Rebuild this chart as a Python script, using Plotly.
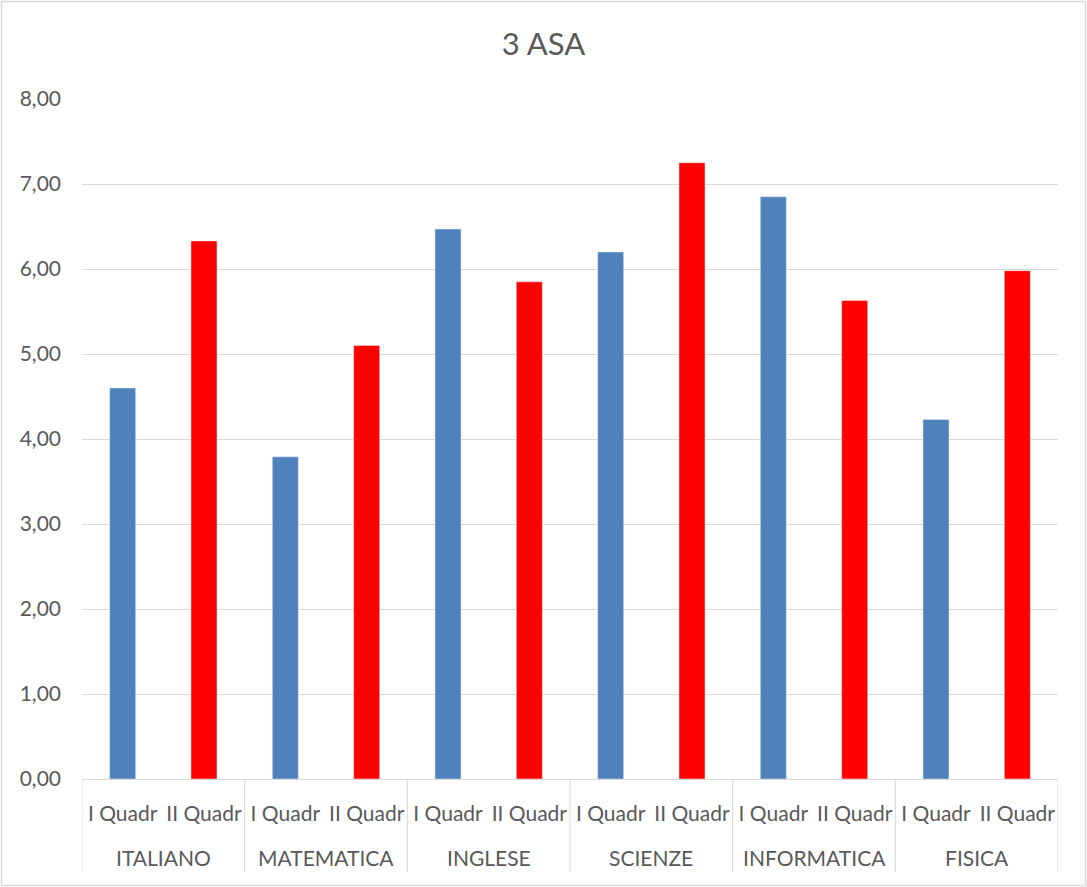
import plotly.graph_objects as go

subjects = ["ITALIANO", "MATEMATICA", "INGLESE", "SCIENZE", "INFORMATICA", "FISICA"]
periods = ["I Quadr", "II Quadr"]
i_quadr = [4.60, 3.79, 6.47, 6.20, 6.85, 4.23]
ii_quadr = [6.33, 5.10, 5.85, 7.25, 5.63, 5.98]
y_ticks = [0, 1, 2, 3, 4, 5, 6, 7, 8]

W, H = 1087, 887
ml, mr, mt, mb = 82, 29, 99, 108
pw = W - ml - mr
ph = H - mt - mb

GREY = "#d9d9d9"
TXT = "#595959"
FONT = "Lato, Open Sans, sans-serif"

categories = [f"{s}|{p}" for s in subjects for p in periods]
tick_text = [p for s in subjects for p in periods]

fig = go.Figure()
fig.add_trace(go.Bar(
    x=[f"{s}|{periods[0]}" for s in subjects],
    y=i_quadr, name=periods[0], marker_color="#4f81bd", width=0.32,
))
fig.add_trace(go.Bar(
    x=[f"{s}|{periods[1]}" for s in subjects],
    y=ii_quadr, name=periods[1], marker_color="#ff0000", width=0.32,
))

fig.update_layout(
    width=W, height=H,
    margin=dict(l=ml, r=mr, t=mt, b=mb, autoexpand=False),
    paper_bgcolor="white", plot_bgcolor="white",
    barmode="overlay",
    showlegend=False,
    separators=",.",
    font=dict(family=FONT, color=TXT, size=21),
    title=dict(text="3 ASA", x=0.5, xanchor="center", y=1 - 44 / H, yanchor="middle",
               font=dict(size=31, color=TXT, family=FONT)),
    xaxis=dict(
        type="category",
        categoryorder="array", categoryarray=categories,
        tickvals=categories, ticktext=tick_text,
        range=[-0.5, len(categories) - 0.5],
        showline=True, linecolor=GREY, linewidth=1,
        showgrid=False, ticks="",
        ticklabelstandoff=16,
        tickfont=dict(size=21, color=TXT, family=FONT),
        automargin=False,
    ),
    yaxis=dict(
        range=[0, 8], tickvals=y_ticks, tickformat=".2f",
        showgrid=True, gridcolor=GREY, gridwidth=1,
        zeroline=False, showline=False, ticks="",
        ticklabelstandoff=20,
        tickfont=dict(size=21, color=TXT, family=FONT),
        automargin=False,
    ),
)

# group dividers below the axis
div_bottom = -(872 - (H - mb)) / ph
for k in range(len(subjects) + 1):
    xpos = 2 * k - 0.5
    fig.add_shape(type="line", xref="x", yref="paper",
                  x0=xpos, x1=xpos, y0=0, y1=div_bottom,
                  line=dict(color=GREY, width=1))

# subject labels
for k, s in enumerate(subjects):
    fig.add_annotation(x=2 * k + 0.5, xref="x", y=-(857 - (H - mb)) / ph, yref="paper",
                       text=s, showarrow=False, xanchor="center", yanchor="middle",
                       font=dict(size=21, color=TXT, family=FONT))

# outer chart border
fig.add_shape(type="rect", xref="paper", yref="paper",
              x0=-(ml - 1.5) / pw, x1=1 + (mr - 1.5) / pw,
              y0=-(mb - 1.5) / ph, y1=1 + (mt - 1.5) / ph,
              line=dict(color=GREY, width=1.5), layer="below")

fig.write_html("out.html", config={"displayModeBar": False},
               post_script="document.body.style.margin='0';document.body.style.overflow='hidden';")
